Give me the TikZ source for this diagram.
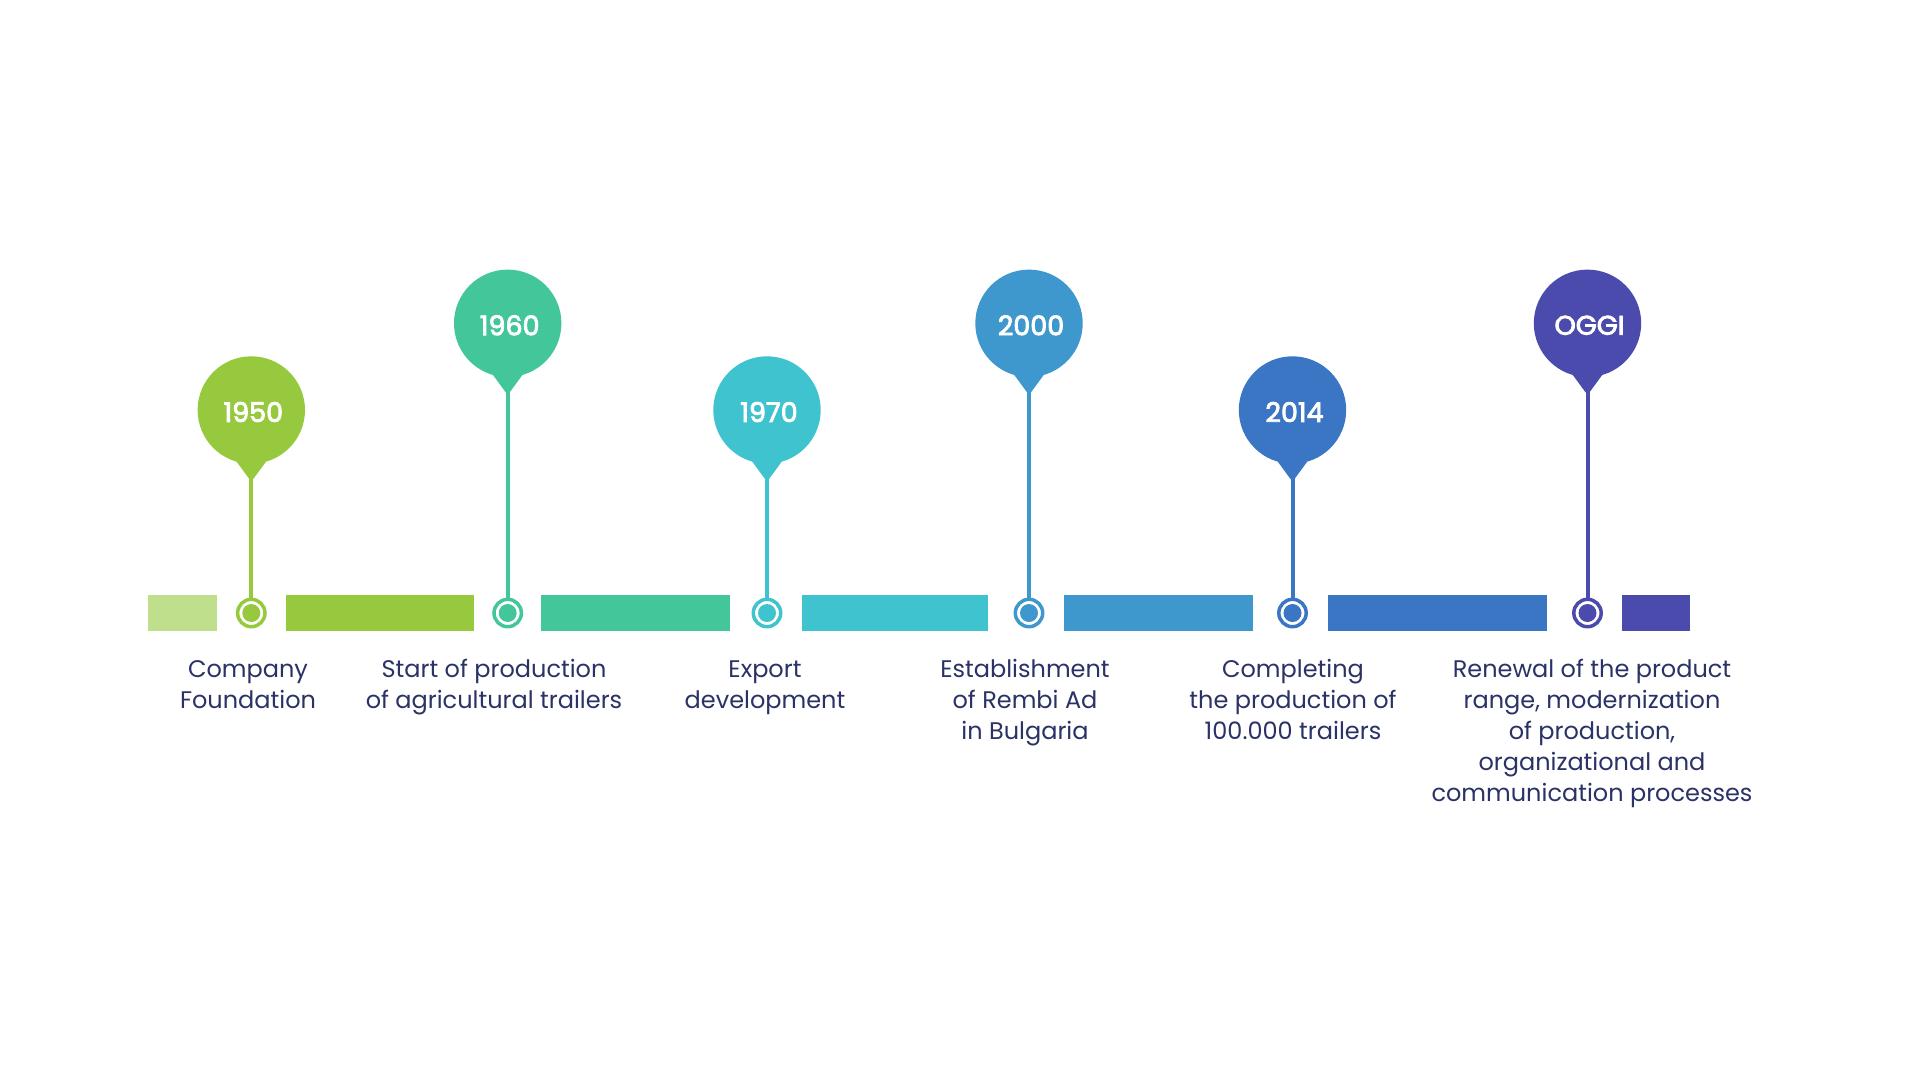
\documentclass[tikz,border=0pt]{standalone}
\usepackage{fontspec}
\setmainfont{Poppins}
\newfontfamily\yearfont{Poppins}[FakeBold=3]
\definecolor{cA}{HTML}{BFDF8C}
\definecolor{cB}{HTML}{96C93D}
\definecolor{cC}{HTML}{44C69B}
\definecolor{cD}{HTML}{3FC3CE}
\definecolor{cE}{HTML}{3F98CD}
\definecolor{cF}{HTML}{3B76C5}
\definecolor{cG}{HTML}{4B4BAE}
\definecolor{txt}{HTML}{2A3266}
\tikzset{
  ring/.style={circle, minimum size=27.4pt, inner sep=0pt, draw=#1, line width=3.5pt, fill=white},
  yearlbl/.style={text=white, font=\fontsize{27}{30}\yearfont, inner sep=0pt},
  desc/.style={text=txt, font=\fontsize{24}{31}\selectfont, align=center, inner sep=0pt, anchor=base},
  stem/.style={draw=#1, line width=4pt},
}
\newcommand\mypin[5]{%
  \fill[#3] (#1,#2) circle[radius=53.7];
  \fill[#3] ({#1-14.7},{#2+51.7}) -- ({#1-2},{#2+69}) -- ({#1+2},{#2+69}) -- ({#1+14.7},{#2+51.7}) -- ({#1},{#2+30}) -- cycle;
  \coordinate (t#5) at ({#1},{#2+68});
  \node[yearlbl] (p#5) at ({#1+2},{#2+2}) {#4};
  \node[ring=#3] (r#5) at (#1,613) {};
  \draw[stem=#3] (t#5) -- (r#5.north);
  \fill[#3] (r#5.center) circle[radius=9];
}
\begin{document}
\begin{tikzpicture}[x=1pt,y=-1pt]
\useasboundingbox (0,0) rectangle (1920,1080);
\fill[white] (0,0) rectangle (1920,1080);
% bars
\fill[cA] (148,595) rectangle (217,631);
\fill[cB] (286,595) rectangle (474,631);
\fill[cC] (541,595) rectangle (730,631);
\fill[cD] (802,595) rectangle (988,631);
\fill[cE] (1064,595) rectangle (1252.5,631);
\fill[cF] (1327.5,595) rectangle (1547,631);
\fill[cG] (1622,595) rectangle (1690,631);
% pins
\mypin{251.3}{410}{cB}{1950}{a}
\mypin{507.7}{323.3}{cC}{1960}{b}
\mypin{767}{410}{cD}{1970}{c}
\mypin{1029}{323.3}{cE}{2000}{d}
\mypin{1292.5}{410}{cF}{2014}{e}
\mypin{1587.5}{323.3}{cG}{OGGI}{f}
% descriptions (anchor = baseline of last line; first baseline at 677, line step 31)
\node[desc] (da) at (248,708) {Company\\Foundation};
\node[desc] (db) at (494,708) {Start of production\\of agricultural trailers};
\node[desc] (dc) at (765,708) {Export\\development};
\node[desc] (dd) at (1025,739) {Establishment\\of Rembi Ad\\in Bulgaria};
\node[desc] (de) at (1293,739) {Completing\\the production of\\100.000 trailers};
\node[desc] (df) at (1592,801) {Renewal of the product\\range, modernization\\of production,\\organizational and\\communication processes};
\end{tikzpicture}
\end{document}
